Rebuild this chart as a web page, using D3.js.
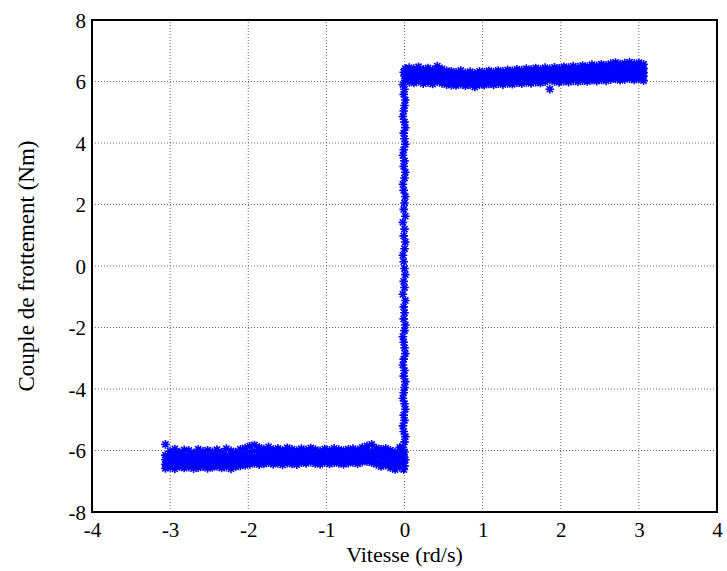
<!DOCTYPE html>
<html>
<head>
<meta charset="utf-8">
<script src="https://cdn.jsdelivr.net/npm/d3@7"></script>
<style>
html,body{margin:0;padding:0;background:#fff;}
svg{display:block;}
</style>
</head>
<body>
<svg id="chart" width="727" height="571"></svg>
<script>
// Axis ticks
const xTicks = [-4,-3,-2,-1,0,1,2,3,4];
const yTicks = [-8,-6,-4,-2,0,2,4,6,8];
const xLabel = "Vitesse (rd/s)";
const yLabel = "Couple de frottement (Nm)";

// Negative-speed cluster: x positions and y values (5 rows per column)
const negX = [-3.06,-3.00,-2.94,-2.88,-2.82,-2.76,-2.70,-2.64,-2.58,-2.52,
  -2.46,-2.40,-2.34,-2.28,-2.22,-2.16,-2.10,-2.04,-1.98,-1.92,
  -1.86,-1.80,-1.74,-1.68,-1.62,-1.56,-1.50,-1.44,-1.38,-1.32,
  -1.26,-1.20,-1.14,-1.08,-1.02,-0.96,-0.90,-0.84,-0.78,-0.72,
  -0.66,-0.60,-0.54,-0.48,-0.42,-0.36,-0.30,-0.24,-0.18,-0.12,-0.06];
const negY1 = [-5.80,-6.02,-5.95,-6.05,-5.98,-6.00,-6.08,-5.96,-6.03,-5.99,
  -6.04,-5.97,-6.06,-5.94,-6.01,-6.05,-5.96,-5.92,-5.86,-5.82,
  -5.90,-5.95,-5.88,-5.97,-5.93,-5.99,-5.91,-5.96,-6.00,-5.94,
  -5.98,-5.92,-5.97,-6.01,-5.95,-5.99,-5.93,-5.97,-6.00,-5.96,
  -5.94,-5.98,-5.90,-5.85,-5.80,-5.92,-5.96,-5.93,-5.99,-6.05,-5.90];
const negY2 = [-6.15,-6.18,-6.12,-6.20,-6.14,-6.17,-6.22,-6.13,-6.19,-6.16,
  -6.18,-6.12,-6.21,-6.15,-6.17,-6.20,-6.11,-6.08,-6.05,-6.02,
  -6.06,-6.10,-6.04,-6.09,-6.07,-6.11,-6.05,-6.10,-6.13,-6.08,
  -6.10,-6.06,-6.11,-6.14,-6.08,-6.12,-6.06,-6.10,-6.13,-6.09,
  -6.07,-6.11,-6.04,-6.00,-6.03,-6.07,-6.10,-6.06,-6.12,-6.18,-6.05];
const negY3 = [-6.30,-6.33,-6.28,-6.35,-6.29,-6.32,-6.36,-6.27,-6.34,-6.31,
  -6.32,-6.26,-6.34,-6.29,-6.31,-6.33,-6.25,-6.22,-6.20,-6.18,
  -6.21,-6.24,-6.19,-6.23,-6.20,-6.24,-6.18,-6.22,-6.25,-6.20,
  -6.22,-6.18,-6.23,-6.26,-6.20,-6.24,-6.19,-6.22,-6.25,-6.21,
  -6.19,-6.23,-6.17,-6.14,-6.16,-6.20,-6.24,-6.20,-6.26,-6.30,-6.20];
const negY4 = [-6.45,-6.48,-6.42,-6.50,-6.44,-6.47,-6.51,-6.43,-6.49,-6.46,
  -6.46,-6.40,-6.48,-6.43,-6.45,-6.47,-6.39,-6.36,-6.34,-6.31,
  -6.35,-6.38,-6.32,-6.36,-6.33,-6.37,-6.31,-6.35,-6.38,-6.33,
  -6.34,-6.30,-6.35,-6.38,-6.32,-6.36,-6.31,-6.34,-6.37,-6.33,
  -6.31,-6.35,-6.30,-6.28,-6.32,-6.36,-6.40,-6.35,-6.42,-6.46,-6.38];
const negY5 = [-6.58,-6.55,-6.60,-6.52,-6.57,-6.54,-6.59,-6.56,-6.53,-6.58,
  -6.55,-6.52,-6.57,-6.54,-6.60,-6.53,-6.50,-6.48,-6.45,-6.42,
  -6.46,-6.44,-6.40,-6.45,-6.42,-6.47,-6.41,-6.44,-6.46,-6.40,
  -6.42,-6.38,-6.43,-6.45,-6.39,-6.44,-6.40,-6.42,-6.45,-6.41,
  -6.39,-6.43,-6.38,-6.36,-6.40,-6.45,-6.52,-6.48,-6.56,-6.62,-6.55];

// Positive-speed cluster
const posX = [0.06,0.12,0.18,0.24,0.30,0.36,0.42,0.48,0.54,0.60,
  0.66,0.72,0.78,0.84,0.90,0.96,1.02,1.08,1.14,1.20,
  1.26,1.32,1.38,1.44,1.50,1.56,1.62,1.68,1.74,1.80,
  1.86,1.92,1.98,2.04,2.10,2.16,2.22,2.28,2.34,2.40,
  2.46,2.52,2.58,2.64,2.70,2.76,2.82,2.88,2.94,3.00,3.06];
const posY1 = [6.45,6.42,6.48,6.40,6.44,6.38,6.50,6.41,6.35,6.33,
  6.30,6.36,6.28,6.32,6.27,6.33,6.30,6.35,6.31,6.36,
  6.33,6.38,6.35,6.40,6.37,6.42,6.39,6.44,6.40,6.45,
  6.41,6.46,6.43,6.48,6.45,6.50,6.47,6.52,6.49,6.55,
  6.51,6.56,6.53,6.58,6.62,6.57,6.60,6.63,6.58,6.61,6.56];
const posY2 = [6.32,6.29,6.35,6.27,6.31,6.25,6.33,6.28,6.22,6.20,
  6.18,6.23,6.16,6.20,6.15,6.21,6.18,6.23,6.19,6.24,
  6.21,6.26,6.23,6.28,6.25,6.30,6.27,6.32,6.28,6.33,
  6.29,6.34,6.31,6.36,6.33,6.37,6.34,6.39,6.36,6.41,
  6.37,6.42,6.39,6.44,6.47,6.43,6.46,6.48,6.44,6.47,6.42];
const posY3 = [6.20,6.17,6.23,6.15,6.19,6.13,6.21,6.16,6.10,6.08,
  6.06,6.11,6.04,6.08,6.03,6.09,6.06,6.11,6.07,6.12,
  6.09,6.14,6.11,6.16,6.13,6.18,6.15,6.20,6.16,6.21,
  6.17,6.22,6.19,6.24,6.21,6.25,6.22,6.27,6.24,6.29,
  6.25,6.30,6.27,6.32,6.34,6.30,6.33,6.35,6.31,6.34,6.29];
const posY4 = [6.08,6.05,6.11,6.03,6.07,6.01,6.09,6.04,5.98,5.96,
  5.94,5.99,5.92,5.96,5.91,5.97,5.94,5.99,5.95,6.00,
  5.97,6.02,5.99,6.04,6.01,6.06,6.03,6.08,6.04,6.09,
  6.05,6.10,6.07,6.12,6.09,6.13,6.10,6.15,6.12,6.17,
  6.13,6.18,6.15,6.20,6.22,6.18,6.21,6.23,6.19,6.22,6.17];
const posY5 = [5.98,5.95,6.00,5.93,5.97,5.92,5.99,5.94,5.90,5.88,
  5.87,5.91,5.86,5.89,5.82,5.90,5.88,5.92,5.89,5.93,
  5.90,5.94,5.91,5.96,5.93,5.97,5.94,5.98,5.95,5.99,
  5.75,6.00,5.97,6.01,5.98,6.02,5.99,6.03,6.00,6.04,
  6.01,6.05,6.02,6.06,6.08,6.04,6.07,6.09,6.05,6.08,6.03];

// Near-zero-speed transition (vertical branch)
const vertX = [-0.01,0.00,-0.02,0.01,-0.01,0.00,-0.02,0.00,0.01,-0.01,
  -0.02,0.00,-0.01,0.01,0.00,-0.02,-0.01,0.00,0.01,-0.01,
  0.00,-0.02,-0.01,0.01,0.00,-0.01,-0.02,0.00,0.01,-0.01,
  0.00,-0.01,0.01,-0.02,0.00,-0.01,0.01,0.00,-0.01,-0.02,
  0.00,0.01,-0.01,0.00,-0.02,0.01,-0.01,0.00,0.01,-0.01,
  -0.02,0.00,0.01,-0.01,0.00,-0.02,-0.01,0.01,0.00,-0.01,
  0.01,0.00,-0.02,-0.01,0.00,0.01,-0.01,0.00,-0.02,0.01,
  0.00,-0.01,0.01];
const vertY = [-6.62,-6.50,-6.41,-6.30,-6.18,-6.05,-5.90,-5.72,-5.55,-5.38,
  -5.20,-5.02,-4.85,-4.66,-4.48,-4.30,-4.12,-3.95,-3.76,-3.58,
  -3.40,-3.22,-3.03,-2.85,-2.66,-2.48,-2.30,-2.10,-1.92,-1.72,
  -1.52,-1.33,-1.12,-0.92,-0.70,-0.50,-0.28,-0.08,0.14,0.35,
  0.56,0.78,0.98,1.20,1.42,1.62,1.84,2.05,2.26,2.46,
  2.66,2.86,3.05,3.24,3.42,3.60,3.78,3.96,4.14,4.32,
  4.50,4.68,4.86,5.04,5.22,5.40,5.58,5.75,5.90,6.04,
  6.18,6.30,6.42];

// Build point list
const points = [];
[negY1,negY2,negY3,negY4,negY5].forEach(row => row.forEach((y,i) => points.push([negX[i], y])));
[posY1,posY2,posY3,posY4,posY5].forEach(row => row.forEach((y,i) => points.push([posX[i], y])));
vertY.forEach((y,i) => points.push([vertX[i], y]));

const FONT = '"Liberation Serif", "Times New Roman", Times, serif';
const svg = d3.select("#chart");
const margin = {left: 92, right: 10, top: 20, bottom: 59};
const W = 727, H = 571;
const x = d3.scaleLinear().domain([-4,4]).range([margin.left, W - margin.right]);
const y = d3.scaleLinear().domain([-8,8]).range([H - margin.bottom, margin.top]);

// Grid
const grid = svg.append("g");
grid.selectAll("line.vx").data(xTicks.slice(1,-1)).enter().append("line")
  .attr("x1", d => x(d)).attr("x2", d => x(d))
  .attr("y1", y(-8)).attr("y2", y(8))
  .attr("stroke", "#444").attr("stroke-width", 0.8).attr("stroke-dasharray", "1,2");
grid.selectAll("line.hy").data(yTicks.slice(1,-1)).enter().append("line")
  .attr("y1", d => y(d)).attr("y2", d => y(d))
  .attr("x1", x(-4)).attr("x2", x(4))
  .attr("stroke", "#444").attr("stroke-width", 0.8).attr("stroke-dasharray", "1,2");

// Markers (star = plus + cross)
const r = 4.3, dd = 3.1;
const star = `M${-r},0H${r}M0,${-r}V${r}M${-dd},${-dd}L${dd},${dd}M${-dd},${dd}L${dd},${-dd}`;
svg.append("g").selectAll("path").data(points).enter().append("path")
  .attr("d", star)
  .attr("transform", d => `translate(${x(d[0])},${y(d[1])})`)
  .attr("stroke", "#0000ff").attr("stroke-width", 1.6).attr("fill", "none");

// Axes via d3 axes (no tick marks, labels only)
const fmt = d => String(d);
const xAxis = d3.axisBottom(x).tickValues(xTicks).tickSize(0).tickPadding(10).tickFormat(fmt);
const yAxis = d3.axisLeft(y).tickValues(yTicks).tickSize(0).tickPadding(6).tickFormat(fmt);
const gx = svg.append("g").attr("transform", `translate(0,${y(-8)})`).call(xAxis);
const gy = svg.append("g").attr("transform", `translate(${x(-4)},0)`).call(yAxis);
[gx, gy].forEach(g => {
  g.select(".domain").remove();
  g.attr("font-family", FONT).attr("font-size", 21);
  g.selectAll("text").attr("fill", "#000");
});
gx.selectAll("text").attr("dy", "0.71em");
gy.selectAll("text").attr("dy", "0.34em");

// Frame
svg.append("rect")
  .attr("x", x(-4)).attr("y", y(8))
  .attr("width", x(4) - x(-4)).attr("height", y(-8) - y(8))
  .attr("fill", "none").attr("stroke", "#000").attr("stroke-width", 2);

// Axis labels
svg.append("text").attr("x", (x(-4)+x(4))/2).attr("y", 562)
  .attr("text-anchor", "middle").attr("font-family", FONT).attr("font-size", 22).text(xLabel);
svg.append("text").attr("transform", `translate(34,${(y(-8)+y(8))/2}) rotate(-90)`)
  .attr("text-anchor", "middle").attr("font-family", FONT).attr("font-size", 23).text(yLabel);
</script>
</body>
</html>
